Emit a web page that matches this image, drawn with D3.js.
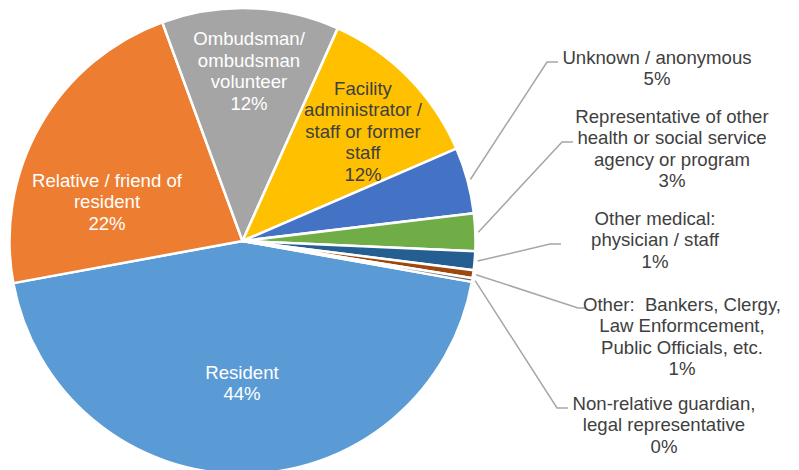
<!DOCTYPE html>
<html>
<head>
<meta charset="utf-8">
<script src="https://cdn.jsdelivr.net/npm/d3@7"></script>
<style>
  html, body { margin: 0; padding: 0; background: #fff; }
  svg { display: block; }
  text { font-family: "Liberation Sans", Arial, sans-serif; white-space: pre; }
</style>
</head>
<body>
<svg id="chart" width="799" height="470"></svg>
<script>
// Complaint sources, share of all complaints (percent)
const categories = [
  "Resident",
  "Relative / friend of resident",
  "Ombudsman/ ombudsman volunteer",
  "Facility administrator / staff or former staff",
  "Unknown / anonymous",
  "Representative of other health or social service agency or program",
  "Other medical: physician / staff",
  "Other:  Bankers, Clergy, Law Enformcement, Public Officials, etc.",
  "Non-relative guardian, legal representative"
];
const shares = [44.3, 22.3, 12.3, 11.8, 4.6, 2.6, 1.3, 0.55, 0.25];

// Text lines of each label (the percentage line is appended from the data)
const labelLines = [
  ["Resident"],
  ["Relative / friend of", "resident"],
  ["Ombudsman/", "ombudsman", "volunteer"],
  ["Facility", "administrator /", "staff or former", "staff"],
  ["Unknown / anonymous"],
  ["Representative of other", "health or social service", "agency or program"],
  ["Other medical:", "physician / staff"],
  ["Other:  Bankers, Clergy,", "Law Enformcement,", "Public Officials, etc."],
  ["Non-relative guardian,", "legal representative"]
];

const palette = ["#5B9BD5", "#ED7D31", "#A5A5A5", "#FFC000", "#4472C4",
                 "#70AD47", "#255E91", "#9E480E", "#636363"];

// Label placement: text centre x, first line y; callouts get an elbow + end point
const labelLayout = [
  { x: 242, y: 372, color: "#ffffff" },
  { x: 107, y: 180, color: "#ffffff" },
  { x: 249, y: 38.5, color: "#ffffff" },
  { x: 363, y: 88, color: "#404040" },
  { x: 657, y: 57, color: "#404040", elbow: [547, 62], end: [558, 62] },
  { x: 672, y: 116, color: "#404040", elbow: [562, 142], end: [573, 142] },
  { x: 655, y: 218, color: "#404040", elbow: [550, 244], end: [561, 244] },
  { x: 682, y: 304, color: "#404040", elbow: [578, 308], end: [585, 308] },
  { x: 664, y: 403, color: "#404040", elbow: [557, 408], end: [568, 408] }
];

const cx = 242.5, cy = 241, radius = 233;
const fontSize = 18.6, lineStep = 21.6;
const startDeg = 100.1;

const svg = d3.select("#chart");
const total = d3.sum(shares);
const pctFmt = v => Math.round(v / total * 100) + "%";

const pie = d3.pie()
  .sort(null)
  .value(d => d)
  .startAngle(startDeg * Math.PI / 180)
  .endAngle(startDeg * Math.PI / 180 + 2 * Math.PI);

const arcs = pie(shares);
const arc = d3.arc().innerRadius(0).outerRadius(radius);

const g = svg.append("g").attr("transform", `translate(${cx},${cy})`);

g.selectAll("path.slice")
  .data(arcs)
  .join("path")
  .attr("class", "slice")
  .attr("d", arc)
  .attr("fill", (d, i) => palette[i])
  .attr("stroke", "#ffffff")
  .attr("stroke-width", 2.5)
  .attr("stroke-linejoin", "round");

// Leader lines for the small slices
arcs.forEach((d, i) => {
  const L = labelLayout[i];
  if (!L.elbow) return;
  const mid = (d.startAngle + d.endAngle) / 2;
  const sx = cx + (radius + 3) * Math.sin(mid);
  const sy = cy - (radius + 3) * Math.cos(mid);
  svg.append("polyline")
    .attr("points", [[sx, sy], L.elbow, L.end].map(p => p.join(",")).join(" "))
    .attr("fill", "none")
    .attr("stroke", "#A6A6A6")
    .attr("stroke-width", 1.5);
});

// Labels
arcs.forEach((d, i) => {
  const L = labelLayout[i];
  const lines = labelLines[i].concat([pctFmt(d.data)]);
  const t = svg.append("text")
    .attr("text-anchor", "middle")
    .attr("font-size", fontSize)
    .attr("fill", L.color);
  lines.forEach((s, k) => {
    t.append("tspan")
      .attr("x", L.x)
      .attr("y", L.y + k * lineStep)
      .attr("dy", "0.35em")
      .text(s);
  });
});
</script>
</body>
</html>
